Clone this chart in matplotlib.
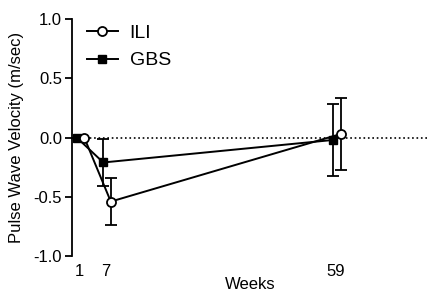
import matplotlib.pyplot as plt
import matplotlib
from matplotlib.lines import Line2D
matplotlib.rc('font', family=['Liberation Sans', 'DejaVu Sans'])

weeks = [1, 7, 59]
tick_labels = ['1', '7', '59']
ili = [0.0, -0.54, 0.03]
ili_err = [0.0, 0.20, 0.30]
gbs = [0.0, -0.21, -0.02]
gbs_err = [0.0, 0.20, 0.30]
ili_shift = 1.2      # GraphPad-style dodge, weeks
gbs_shift = -0.5

fig = plt.figure(figsize=(4.28, 2.94), dpi=100)
ax = fig.add_axes([0.168, 0.129, 0.832, 0.806])

ax.axhline(0, color='black', linestyle=':', linewidth=1.2, zorder=1)
ax.errorbar([w + ili_shift for w in weeks], ili, yerr=ili_err, color='black',
            marker='o', markersize=6.5, markerfacecolor='white', markeredgewidth=1.3,
            linewidth=1.4, capsize=4, elinewidth=1.3, capthick=1.3, zorder=3)
ax.errorbar([w + gbs_shift for w in weeks], gbs, yerr=gbs_err, color='black',
            marker='s', markersize=6, linewidth=1.4, capsize=4, elinewidth=1.3,
            capthick=1.3, zorder=2)

ax.set_xlim(-0.6, 80)
ax.set_ylim(-1.0, 1.0)
ax.set_yticks([-1.0, -0.5, 0.0, 0.5, 1.0])
ax.set_yticklabels(['-1.0', '-0.5', '0.0', '0.5', '1.0'], fontsize=12)
ax.set_xticks(weeks)
ax.set_xticklabels(tick_labels, fontsize=12)
ax.tick_params(axis='x', length=0, pad=6)
ax.tick_params(axis='y', length=5, width=1.3, pad=2)
for s in ['top', 'right', 'bottom']:
    ax.spines[s].set_visible(False)
ax.spines['left'].set_linewidth(1.3)
ax.set_ylabel('Pulse Wave Velocity (m/sec)', fontsize=12, labelpad=7)
ax.set_xlabel('Weeks', fontsize=12, labelpad=-2)
ax.patch.set_visible(False)
for line in ax.get_lines():
    line.set_clip_on(False)

handles = [
    Line2D([], [], color='black', marker='o', markersize=6.5, markerfacecolor='white',
           markeredgewidth=1.3, linewidth=1.4),
    Line2D([], [], color='black', marker='s', markersize=6, linewidth=1.4),
]
ax.legend(handles, ['ILI', 'GBS'], loc='upper left', frameon=False, fontsize=14,
          handlelength=1.6, bbox_to_anchor=(0.02, 1.01), borderaxespad=0,
          labelspacing=0.5, handletextpad=0.6)

plt.savefig('out.png', dpi=100)
